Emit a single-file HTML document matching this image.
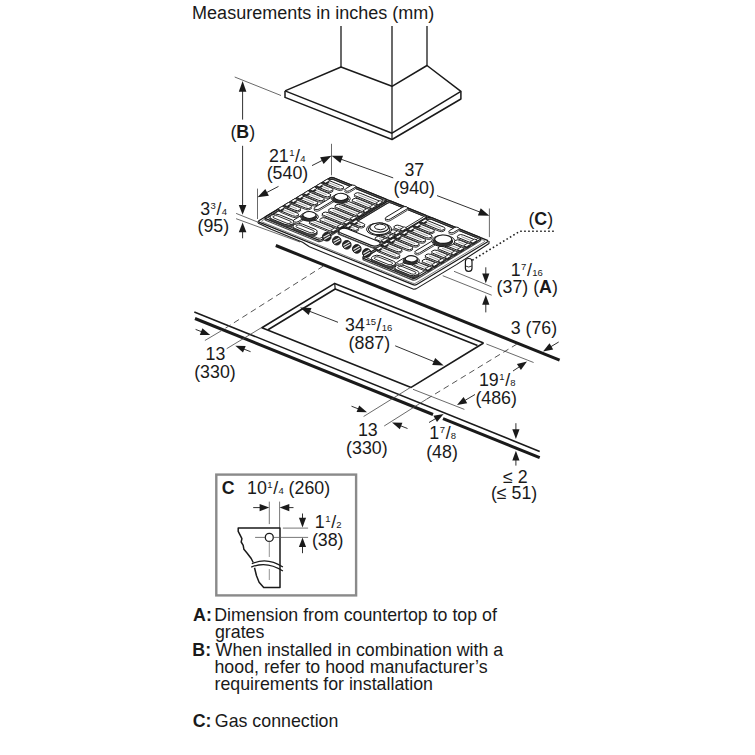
<!DOCTYPE html>
<html><head><meta charset="utf-8"><style>
html,body{margin:0;padding:0;background:#fff;}
svg{display:block;font-family:"Liberation Sans",sans-serif;}
</style></head><body>
<svg width="755" height="755" viewBox="0 0 755 755">
<rect width="755" height="755" fill="#fff"/>
<text x="192.12" y="18.90" font-size="18" font-weight="normal" fill="#1a1a1a">Measurements in inches (mm)</text>
<line x1="341.0" y1="26.0" x2="341.0" y2="67.0" stroke="#1a1a1a" stroke-width="1.3" />
<line x1="392.0" y1="26.0" x2="392.0" y2="86.0" stroke="#1a1a1a" stroke-width="1.3" />
<line x1="427.0" y1="26.0" x2="427.0" y2="65.5" stroke="#1a1a1a" stroke-width="1.3" />
<polyline points="285.0,90.9 341.0,67.0 392.0,86.3 427.0,65.5 460.9,91.4 392.0,133.2 285.0,90.9" stroke="#1a1a1a" stroke-width="1.5" fill="none" stroke-linejoin="round" />
<line x1="392.0" y1="86.3" x2="392.0" y2="133.2" stroke="#1a1a1a" stroke-width="1.3" />
<polyline points="285.0,90.9 285.0,97.4 392.0,139.5 460.9,99.0 460.9,91.4" stroke="#1a1a1a" stroke-width="1.5" fill="none" stroke-linejoin="round" />
<line x1="392.0" y1="133.2" x2="392.0" y2="139.5" stroke="#1a1a1a" stroke-width="1.2" />
<line x1="234.7" y1="77.0" x2="281.0" y2="95.5" stroke="#444" stroke-width="0.8" />
<line x1="242.6" y1="119.6" x2="242.6" y2="90.8" stroke="#1a1a1a" stroke-width="0.9" />
<polygon points="242.6,81.0 246.4,91.8 238.8,91.8" fill="#1a1a1a"/>
<text x="230.40" y="138.40" font-size="17.8" font-weight="normal" fill="#1a1a1a">(</text>
<text x="236.32" y="138.4" font-size="17.8" fill="#1a1a1a"><tspan font-weight="bold">B</tspan>)</text>
<line x1="242.6" y1="145.8" x2="242.6" y2="206.0" stroke="#1a1a1a" stroke-width="0.9" />
<polygon points="242.6,214.7 238.8,205.0 246.4,205.0" fill="#1a1a1a"/>
<line x1="242.6" y1="238.3" x2="242.6" y2="231.3" stroke="#1a1a1a" stroke-width="0.9" />
<polygon points="242.6,222.6 246.4,232.3 238.8,232.3" fill="#1a1a1a"/>
<line x1="236.1" y1="213.4" x2="257.0" y2="221.8" stroke="#444" stroke-width="0.8" />
<line x1="236.1" y1="218.7" x2="300.0" y2="242.0" stroke="#444" stroke-width="0.8" />
<text x="200.22" y="214.70" font-size="17.8" fill="#1a1a1a">3</text>
<text x="210.62" y="208.80" font-size="9.5" fill="#1a1a1a">3</text>
<text x="216.51" y="214.70" font-size="17.8" fill="#1a1a1a">/</text>
<text x="221.75" y="214.70" font-size="9.5" fill="#1a1a1a">4</text>
<text x="197.50" y="231.90" font-size="17.8" font-weight="normal" fill="#1a1a1a">(95)</text>
<line x1="257.5" y1="188.6" x2="257.5" y2="219.0" stroke="#444" stroke-width="0.8" />
<line x1="331.5" y1="143.8" x2="331.5" y2="175.3" stroke="#444" stroke-width="0.8" />
<line x1="278.5" y1="186.4" x2="266.2" y2="192.8" stroke="#1a1a1a" stroke-width="0.9" />
<polygon points="257.5,197.3 265.3,188.9 268.9,195.7" fill="#1a1a1a"/>
<line x1="312.0" y1="165.6" x2="322.7" y2="160.2" stroke="#1a1a1a" stroke-width="0.9" />
<polygon points="331.5,155.8 323.6,164.1 320.1,157.2" fill="#1a1a1a"/>
<text x="268.90" y="161.70" font-size="17.8" fill="#1a1a1a">21</text>
<text x="289.20" y="155.80" font-size="9.5" fill="#1a1a1a">1</text>
<text x="295.09" y="161.70" font-size="17.8" fill="#1a1a1a">/</text>
<text x="300.33" y="161.70" font-size="9.5" fill="#1a1a1a">4</text>
<text x="266.70" y="179.10" font-size="17.8" font-weight="normal" fill="#1a1a1a">(540)</text>
<line x1="393.2" y1="177.9" x2="340.7" y2="159.1" stroke="#1a1a1a" stroke-width="0.9" />
<polygon points="331.5,155.8 343.0,155.8 340.4,163.1" fill="#1a1a1a"/>
<line x1="437.0" y1="195.6" x2="480.3" y2="212.2" stroke="#1a1a1a" stroke-width="0.9" />
<polygon points="489.4,215.7 477.9,215.4 480.7,208.2" fill="#1a1a1a"/>
<line x1="489.4" y1="208.5" x2="489.4" y2="237.1" stroke="#444" stroke-width="0.8" />
<text x="404.42" y="175.70" font-size="17.8" font-weight="normal" fill="#1a1a1a">37</text>
<text x="393.40" y="194.00" font-size="17.8" font-weight="normal" fill="#1a1a1a">(940)</text>
<text x="528.40" y="225.20" font-size="17.8" font-weight="normal" fill="#1a1a1a">(</text>
<text x="534.32" y="225.2" font-size="17.8" fill="#1a1a1a"><tspan font-weight="bold">C</tspan>)</text>
<polyline points="472.3,260.2 520,231.2 556,231.2" fill="none" stroke="#222" stroke-width="1.6" stroke-dasharray="1.6 2.4"/>
<line x1="485.8" y1="267.3" x2="485.8" y2="274.5" stroke="#1a1a1a" stroke-width="0.9" />
<polygon points="485.8,283.2 482.2,273.5 489.4,273.5" fill="#1a1a1a"/>
<line x1="485.8" y1="312.4" x2="485.8" y2="303.7" stroke="#1a1a1a" stroke-width="0.9" />
<polygon points="485.8,295.0 489.4,304.7 482.2,304.7" fill="#1a1a1a"/>
<line x1="454.0" y1="271.3" x2="491.7" y2="286.9" stroke="#444" stroke-width="0.8" />
<line x1="442.7" y1="275.7" x2="491.7" y2="295.2" stroke="#444" stroke-width="0.8" />
<text x="510.64" y="275.50" font-size="17.8" fill="#1a1a1a">1</text>
<text x="521.04" y="269.60" font-size="9.5" fill="#1a1a1a">7</text>
<text x="526.93" y="275.50" font-size="17.8" fill="#1a1a1a">/</text>
<text x="532.17" y="275.50" font-size="9.5" fill="#1a1a1a">16</text>
<text x="496.60" y="293.20" font-size="17.8" font-weight="normal" fill="#1a1a1a">(37) (</text>
<text x="539.12" y="293.2" font-size="17.8" fill="#1a1a1a"><tspan font-weight="bold">A</tspan>)</text>
<line x1="275.8" y1="245.5" x2="559.6" y2="360.1" stroke="#1a1a1a" stroke-width="3.0" />
<line x1="194.3" y1="311.9" x2="539.7" y2="451.4" stroke="#1a1a1a" stroke-width="1.6" />
<line x1="195.0" y1="318.5" x2="433.0" y2="414.5" stroke="#1a1a1a" stroke-width="3.0" />
<line x1="443.0" y1="418.6" x2="539.7" y2="457.7" stroke="#1a1a1a" stroke-width="3.0" />
<polyline points="483.6,343.0 334.7,283.4 261.9,327.8 411.1,387.4 483.6,343.0" stroke="#1a1a1a" stroke-width="1.6" fill="none" stroke-linejoin="round" />
<polyline points="477.5,345.6 335.2,289.0 268.0,329.7" stroke="#1a1a1a" stroke-width="1.6" fill="none" stroke-linejoin="round" />
<line x1="334.7" y1="283.4" x2="335.2" y2="289.2" stroke="#1a1a1a" stroke-width="1.2" />
<line x1="323.4" y1="266" x2="220.8" y2="331.1" stroke="#555" stroke-width="1" stroke-dasharray="6 4"/>
<line x1="220.8" y1="331.1" x2="204.9" y2="340.5" stroke="#444" stroke-width="0.8" />
<line x1="261.2" y1="327.8" x2="226.7" y2="348.7" stroke="#444" stroke-width="0.8" />
<line x1="517" y1="344" x2="426.4" y2="399.3" stroke="#555" stroke-width="1" stroke-dasharray="6 4"/>
<line x1="426.4" y1="399.3" x2="384.2" y2="426.0" stroke="#444" stroke-width="0.8" />
<line x1="410.9" y1="387.2" x2="363.6" y2="416.5" stroke="#444" stroke-width="0.8" />
<line x1="486.4" y1="344.0" x2="533.6" y2="362.5" stroke="#444" stroke-width="0.8" />
<line x1="413.0" y1="389.3" x2="464.4" y2="409.4" stroke="#444" stroke-width="0.8" />
<line x1="338.0" y1="322.3" x2="309.1" y2="311.1" stroke="#1a1a1a" stroke-width="0.9" />
<polygon points="300.0,307.6 311.5,307.9 308.7,315.1" fill="#1a1a1a"/>
<line x1="395.2" y1="345.8" x2="434.6" y2="361.9" stroke="#1a1a1a" stroke-width="0.9" />
<polygon points="443.7,365.6 432.2,365.1 435.2,358.0" fill="#1a1a1a"/>
<text x="345.12" y="331.20" font-size="17.8" fill="#1a1a1a">34</text>
<text x="365.42" y="325.30" font-size="9.5" fill="#1a1a1a">15</text>
<text x="376.59" y="331.20" font-size="17.8" fill="#1a1a1a">/</text>
<text x="381.83" y="331.20" font-size="9.5" fill="#1a1a1a">16</text>
<text x="348.60" y="348.70" font-size="17.8" font-weight="normal" fill="#1a1a1a">(887)</text>
<line x1="195.6" y1="329.4" x2="202.1" y2="331.9" stroke="#1a1a1a" stroke-width="0.9" />
<polygon points="210.2,335.1 199.8,334.9 202.4,328.2" fill="#1a1a1a"/>
<line x1="250.6" y1="351.7" x2="243.4" y2="348.9" stroke="#1a1a1a" stroke-width="0.9" />
<polygon points="235.3,345.7 245.7,345.9 243.0,352.6" fill="#1a1a1a"/>
<text x="205.54" y="360.30" font-size="17.8" font-weight="normal" fill="#1a1a1a">13</text>
<text x="194.20" y="378.10" font-size="17.8" font-weight="normal" fill="#1a1a1a">(330)</text>
<line x1="558.7" y1="342.0" x2="550.5" y2="346.9" stroke="#1a1a1a" stroke-width="0.9" />
<polygon points="543.0,351.4 549.5,343.3 553.2,349.5" fill="#1a1a1a"/>
<text x="510.72" y="333.60" font-size="17.8" font-weight="normal" fill="#1a1a1a">3 (76)</text>
<line x1="513.0" y1="371.0" x2="519.8" y2="366.5" stroke="#1a1a1a" stroke-width="0.9" />
<polygon points="527.0,361.6 520.9,370.0 516.9,364.1" fill="#1a1a1a"/>
<line x1="475.0" y1="394.5" x2="464.5" y2="400.7" stroke="#1a1a1a" stroke-width="0.9" />
<polygon points="457.0,405.1 463.6,397.1 467.2,403.2" fill="#1a1a1a"/>
<text x="478.94" y="385.60" font-size="17.8" fill="#1a1a1a">19</text>
<text x="499.24" y="379.70" font-size="9.5" fill="#1a1a1a">1</text>
<text x="505.13" y="385.60" font-size="17.8" fill="#1a1a1a">/</text>
<text x="510.37" y="385.60" font-size="9.5" fill="#1a1a1a">8</text>
<text x="475.40" y="404.20" font-size="17.8" font-weight="normal" fill="#1a1a1a">(486)</text>
<line x1="351.5" y1="406.2" x2="358.9" y2="409.1" stroke="#1a1a1a" stroke-width="0.9" />
<polygon points="367.0,412.2 356.6,412.0 359.2,405.4" fill="#1a1a1a"/>
<line x1="407.5" y1="428.5" x2="400.1" y2="425.6" stroke="#1a1a1a" stroke-width="0.9" />
<polygon points="392.0,422.5 402.4,422.7 399.8,429.3" fill="#1a1a1a"/>
<text x="357.94" y="436.00" font-size="17.8" font-weight="normal" fill="#1a1a1a">13</text>
<text x="346.10" y="453.50" font-size="17.8" font-weight="normal" fill="#1a1a1a">(330)</text>
<line x1="429.0" y1="422.5" x2="436.1" y2="418.3" stroke="#1a1a1a" stroke-width="0.9" />
<polygon points="443.6,413.9 437.0,421.9 433.4,415.8" fill="#1a1a1a"/>
<text x="429.34" y="438.90" font-size="17.8" fill="#1a1a1a">1</text>
<text x="439.74" y="433.00" font-size="9.5" fill="#1a1a1a">7</text>
<text x="445.63" y="438.90" font-size="17.8" fill="#1a1a1a">/</text>
<text x="450.87" y="438.90" font-size="9.5" fill="#1a1a1a">8</text>
<text x="426.20" y="457.80" font-size="17.8" font-weight="normal" fill="#1a1a1a">(48)</text>
<line x1="515.9" y1="423.2" x2="515.9" y2="430.3" stroke="#1a1a1a" stroke-width="0.9" />
<polygon points="515.9,439.0 512.3,429.3 519.5,429.3" fill="#1a1a1a"/>
<line x1="515.9" y1="465.6" x2="515.9" y2="459.4" stroke="#1a1a1a" stroke-width="0.9" />
<polygon points="515.9,450.7 519.5,460.4 512.3,460.4" fill="#1a1a1a"/>
<text x="503.05" y="482.60" font-size="17.8" font-weight="normal" fill="#1a1a1a">≤ 2</text>
<text x="490.90" y="498.50" font-size="17.8" font-weight="normal" fill="#1a1a1a">(≤ 51)</text>
<rect x="216.3" y="474.6" width="139.8" height="120.8" fill="none" stroke="#8a8a8a" stroke-width="2.4"/>
<text x="221.67" y="493.80" font-size="17.8" font-weight="bold" fill="#1a1a1a">C</text>
<text x="247.04" y="494.20" font-size="17.8" fill="#1a1a1a">10</text>
<text x="267.34" y="488.30" font-size="9.5" fill="#1a1a1a">1</text>
<text x="273.23" y="494.20" font-size="17.8" fill="#1a1a1a">/</text>
<text x="278.47" y="494.20" font-size="9.5" fill="#1a1a1a">4</text>
<text x="288.60" y="494.20" font-size="17.8" font-weight="normal" fill="#1a1a1a">(260)</text>
<line x1="269.3" y1="501.6" x2="269.3" y2="524.1" stroke="#555" stroke-width="0.8" />
<line x1="279.6" y1="501.6" x2="279.6" y2="528.0" stroke="#555" stroke-width="0.8" />
<line x1="253.2" y1="507.6" x2="260.6" y2="507.6" stroke="#1a1a1a" stroke-width="0.9" />
<polygon points="269.3,507.6 259.6,511.2 259.6,504.0" fill="#1a1a1a"/>
<line x1="293.5" y1="507.6" x2="288.3" y2="507.6" stroke="#1a1a1a" stroke-width="0.9" />
<polygon points="279.6,507.6 289.3,504.0 289.3,511.2" fill="#1a1a1a"/>
<path d="M253.2,562.5 L251.2,558.5 L247.2,553.2 L243.9,549.3 L243.2,545.3 L241.2,542 L241.9,538.7 L239.9,534.7 L238.2,531.4 L238.2,528.1 L280,528.1 L280,587.6 L263.7,587.6 L259.1,582.3 L256.5,575.7 L254.5,567.8" fill="none" stroke="#1a1a1a" stroke-width="1.5" stroke-linejoin="round"/>
<circle cx="269.3" cy="537.4" r="4" fill="none" stroke="#1a1a1a" stroke-width="1.3"/>
<line x1="255.1" y1="537.4" x2="265.3" y2="537.4" stroke="#555" stroke-width="0.8" />
<line x1="273.3" y1="537.4" x2="308.1" y2="537.4" stroke="#555" stroke-width="0.8" />
<line x1="282.9" y1="528.1" x2="308.1" y2="528.1" stroke="#555" stroke-width="0.8" />
<line x1="269.3" y1="541.5" x2="269.3" y2="557.0" stroke="#777" stroke-width="0.8" />
<line x1="269.3" y1="569.0" x2="269.3" y2="580.0" stroke="#777" stroke-width="0.8" />
<line x1="302.5" y1="513.5" x2="302.5" y2="518.7" stroke="#1a1a1a" stroke-width="0.9" />
<polygon points="302.5,527.4 298.9,517.7 306.1,517.7" fill="#1a1a1a"/>
<line x1="302.5" y1="553.2" x2="302.5" y2="546.1" stroke="#1a1a1a" stroke-width="0.9" />
<polygon points="302.5,537.4 306.1,547.1 298.9,547.1" fill="#1a1a1a"/>
<text x="314.84" y="528.00" font-size="17.8" fill="#1a1a1a">1</text>
<text x="325.24" y="522.10" font-size="9.5" fill="#1a1a1a">1</text>
<text x="331.13" y="528.00" font-size="17.8" fill="#1a1a1a">/</text>
<text x="336.37" y="528.00" font-size="9.5" fill="#1a1a1a">2</text>
<text x="311.90" y="545.50" font-size="17.8" font-weight="normal" fill="#1a1a1a">(38)</text>
<path d="M251.8,563.8 Q267,556.5 282.9,567.1" fill="none" stroke="#1a1a1a" stroke-width="1.2"/>
<path d="M251.2,567.1 Q267,560.5 282.9,571.1" fill="none" stroke="#1a1a1a" stroke-width="1.2"/>
<text x="193.06" y="621.20" font-size="17.8" font-weight="bold" fill="#1a1a1a">A:</text>
<text x="214.24" y="621.20" font-size="17.8" font-weight="normal" fill="#1a1a1a">Dimension from countertop to top of</text>
<text x="214.95" y="637.80" font-size="17.8" font-weight="normal" fill="#1a1a1a">grates</text>
<text x="192.31" y="655.50" font-size="17.8" font-weight="bold" fill="#1a1a1a">B:</text>
<text x="215.62" y="655.50" font-size="17.8" font-weight="normal" fill="#1a1a1a">When installed in combination with a</text>
<text x="214.47" y="672.50" font-size="17.8" font-weight="normal" fill="#1a1a1a">hood, refer to hood manufacturer’s</text>
<text x="214.52" y="689.50" font-size="17.8" font-weight="normal" fill="#1a1a1a">requirements for installation</text>
<text x="192.77" y="726.80" font-size="17.8" font-weight="bold" fill="#1a1a1a">C:</text>
<text x="214.80" y="726.80" font-size="17.8" font-weight="normal" fill="#1a1a1a">Gas connection</text>
<polyline points="257.5,221.5 258.4,223.3 271.1,229.2 302.6,242.2 309.4,246.8 413.7,289.2 416.0,288.9 456.8,264.4 489.0,243.5 489.0,241.0" stroke="#1a1a1a" stroke-width="1.1" fill="#fff" stroke-linejoin="round" />
<rect x="465.4" y="258.5" width="6.6" height="12.8" rx="3" fill="#fff" stroke="#1a1a1a" stroke-width="1.2"/>
<path d="M465.6,266 Q468.7,268 471.8,266" fill="none" stroke="#1a1a1a" stroke-width="0.9"/>
<g transform="matrix(4.2568,1.7297,3.4824,-2.0941,257.5,221.50)">
<rect x="0" y="0" width="37" height="21.25" rx="0.5" fill="#fff" stroke="#1a1a1a" stroke-width="1.2" vector-effect="non-scaling-stroke"/>
<rect x="0.45" y="0.4" width="36.1" height="20.45" rx="0.4" fill="none" stroke="#444" stroke-width="0.7" vector-effect="non-scaling-stroke"/>
</g>
<g transform="matrix(4.2568,1.7297,3.4824,-2.0941,257.5,220.10)">
<rect x="0.70" y="0.90" width="13.20" height="19.50" rx="0.6" fill="none" stroke="#444" stroke-width="1.2" vector-effect="non-scaling-stroke"/>
<rect x="14.20" y="5.40" width="9.20" height="15.00" rx="0.6" fill="none" stroke="#444" stroke-width="1.2" vector-effect="non-scaling-stroke"/>
<rect x="23.70" y="0.90" width="12.40" height="19.50" rx="0.6" fill="none" stroke="#444" stroke-width="1.2" vector-effect="non-scaling-stroke"/>
</g>
<g transform="matrix(4.2568,1.7297,3.4824,-2.0941,257.5,218.50)">
<rect x="1.00" y="19.85" width="12.60" height="0.55" rx="0.1" fill="#6a6a6a" stroke="#6a6a6a" stroke-width="0.1" vector-effect="non-scaling-stroke"/>
<rect x="0.70" y="0.90" width="13.20" height="19.50" rx="0.6" fill="none" stroke="#1a1a1a" stroke-width="1.2" vector-effect="non-scaling-stroke"/>
<rect x="1.20" y="1.40" width="12.20" height="18.50" rx="0.4" fill="none" stroke="#1a1a1a" stroke-width="0.9" vector-effect="non-scaling-stroke"/>
<rect x="14.50" y="19.85" width="8.60" height="0.55" rx="0.1" fill="#6a6a6a" stroke="#6a6a6a" stroke-width="0.1" vector-effect="non-scaling-stroke"/>
<rect x="14.20" y="5.40" width="9.20" height="15.00" rx="0.6" fill="none" stroke="#1a1a1a" stroke-width="1.2" vector-effect="non-scaling-stroke"/>
<rect x="14.70" y="5.90" width="8.20" height="14.00" rx="0.4" fill="none" stroke="#1a1a1a" stroke-width="0.9" vector-effect="non-scaling-stroke"/>
<rect x="24.00" y="19.85" width="11.80" height="0.55" rx="0.1" fill="#6a6a6a" stroke="#6a6a6a" stroke-width="0.1" vector-effect="non-scaling-stroke"/>
<rect x="23.70" y="0.90" width="12.40" height="19.50" rx="0.6" fill="none" stroke="#1a1a1a" stroke-width="1.2" vector-effect="non-scaling-stroke"/>
<rect x="24.20" y="1.40" width="11.40" height="18.50" rx="0.4" fill="none" stroke="#1a1a1a" stroke-width="0.9" vector-effect="non-scaling-stroke"/>
</g>
<g transform="matrix(4.2568,1.7297,3.4824,-2.0941,257.5,219.90)">
<rect x="0.75" y="4.85" width="4.20" height="1.30" rx="0.65" fill="#fff" stroke="#333" stroke-width="1.0" vector-effect="non-scaling-stroke"/>
</g>
<g transform="matrix(4.2568,1.7297,3.4824,-2.0941,257.5,218.50)">
<rect x="0.75" y="4.85" width="4.20" height="1.30" rx="0.65" fill="#fff" stroke="#1a1a1a" stroke-width="1.0" vector-effect="non-scaling-stroke"/>
<line x1="1.75" y1="5.50" x2="4.20" y2="5.50" stroke="#777" stroke-width="0.7" vector-effect="non-scaling-stroke"/>
</g>
<g transform="matrix(4.2568,1.7297,3.4824,-2.0941,257.5,219.50)">
<rect x="0.75" y="5.00" width="0.70" height="0.91" rx="0.1" fill="#222" stroke="#222" stroke-width="0.6" vector-effect="non-scaling-stroke"/>
</g>
<g transform="matrix(4.2568,1.7297,3.4824,-2.0941,257.5,217.90)">
<rect x="0.75" y="4.85" width="0.70" height="1.30" rx="0.1" fill="#fff" stroke="#1a1a1a" stroke-width="0.9" vector-effect="non-scaling-stroke"/>
</g>
<g transform="matrix(4.2568,1.7297,3.4824,-2.0941,257.5,219.90)">
<rect x="7.85" y="4.85" width="6.00" height="1.30" rx="0.65" fill="#fff" stroke="#333" stroke-width="1.0" vector-effect="non-scaling-stroke"/>
</g>
<g transform="matrix(4.2568,1.7297,3.4824,-2.0941,257.5,218.50)">
<rect x="7.85" y="4.85" width="6.00" height="1.30" rx="0.65" fill="#fff" stroke="#1a1a1a" stroke-width="1.0" vector-effect="non-scaling-stroke"/>
<line x1="12.85" y1="5.50" x2="8.60" y2="5.50" stroke="#777" stroke-width="0.7" vector-effect="non-scaling-stroke"/>
</g>
<g transform="matrix(4.2568,1.7297,3.4824,-2.0941,257.5,219.50)">
<rect x="13.15" y="5.00" width="0.70" height="0.91" rx="0.1" fill="#222" stroke="#222" stroke-width="0.6" vector-effect="non-scaling-stroke"/>
</g>
<g transform="matrix(4.2568,1.7297,3.4824,-2.0941,257.5,217.90)">
<rect x="13.15" y="4.85" width="0.70" height="1.30" rx="0.1" fill="#fff" stroke="#1a1a1a" stroke-width="0.9" vector-effect="non-scaling-stroke"/>
</g>
<g transform="matrix(4.2568,1.7297,3.4824,-2.0941,257.5,219.90)">
<rect x="0.75" y="6.70" width="3.20" height="1.30" rx="0.65" fill="#fff" stroke="#333" stroke-width="1.0" vector-effect="non-scaling-stroke"/>
</g>
<g transform="matrix(4.2568,1.7297,3.4824,-2.0941,257.5,218.50)">
<rect x="0.75" y="6.70" width="3.20" height="1.30" rx="0.65" fill="#fff" stroke="#1a1a1a" stroke-width="1.0" vector-effect="non-scaling-stroke"/>
<line x1="1.75" y1="7.35" x2="3.20" y2="7.35" stroke="#777" stroke-width="0.7" vector-effect="non-scaling-stroke"/>
</g>
<g transform="matrix(4.2568,1.7297,3.4824,-2.0941,257.5,219.50)">
<rect x="0.75" y="6.85" width="0.70" height="0.91" rx="0.1" fill="#222" stroke="#222" stroke-width="0.6" vector-effect="non-scaling-stroke"/>
</g>
<g transform="matrix(4.2568,1.7297,3.4824,-2.0941,257.5,217.90)">
<rect x="0.75" y="6.70" width="0.70" height="1.30" rx="0.1" fill="#fff" stroke="#1a1a1a" stroke-width="0.9" vector-effect="non-scaling-stroke"/>
</g>
<g transform="matrix(4.2568,1.7297,3.4824,-2.0941,257.5,219.90)">
<rect x="8.85" y="6.70" width="5.00" height="1.30" rx="0.65" fill="#fff" stroke="#333" stroke-width="1.0" vector-effect="non-scaling-stroke"/>
</g>
<g transform="matrix(4.2568,1.7297,3.4824,-2.0941,257.5,218.50)">
<rect x="8.85" y="6.70" width="5.00" height="1.30" rx="0.65" fill="#fff" stroke="#1a1a1a" stroke-width="1.0" vector-effect="non-scaling-stroke"/>
<line x1="12.85" y1="7.35" x2="9.60" y2="7.35" stroke="#777" stroke-width="0.7" vector-effect="non-scaling-stroke"/>
</g>
<g transform="matrix(4.2568,1.7297,3.4824,-2.0941,257.5,219.50)">
<rect x="13.15" y="6.85" width="0.70" height="0.91" rx="0.1" fill="#222" stroke="#222" stroke-width="0.6" vector-effect="non-scaling-stroke"/>
</g>
<g transform="matrix(4.2568,1.7297,3.4824,-2.0941,257.5,217.90)">
<rect x="13.15" y="6.70" width="0.70" height="1.30" rx="0.1" fill="#fff" stroke="#1a1a1a" stroke-width="0.9" vector-effect="non-scaling-stroke"/>
</g>
<g transform="matrix(4.2568,1.7297,3.4824,-2.0941,257.5,219.90)">
<rect x="0.75" y="8.55" width="4.20" height="1.30" rx="0.65" fill="#fff" stroke="#333" stroke-width="1.0" vector-effect="non-scaling-stroke"/>
</g>
<g transform="matrix(4.2568,1.7297,3.4824,-2.0941,257.5,218.50)">
<rect x="0.75" y="8.55" width="4.20" height="1.30" rx="0.65" fill="#fff" stroke="#1a1a1a" stroke-width="1.0" vector-effect="non-scaling-stroke"/>
<line x1="1.75" y1="9.20" x2="4.20" y2="9.20" stroke="#777" stroke-width="0.7" vector-effect="non-scaling-stroke"/>
</g>
<g transform="matrix(4.2568,1.7297,3.4824,-2.0941,257.5,219.50)">
<rect x="0.75" y="8.70" width="0.70" height="0.91" rx="0.1" fill="#222" stroke="#222" stroke-width="0.6" vector-effect="non-scaling-stroke"/>
</g>
<g transform="matrix(4.2568,1.7297,3.4824,-2.0941,257.5,217.90)">
<rect x="0.75" y="8.55" width="0.70" height="1.30" rx="0.1" fill="#fff" stroke="#1a1a1a" stroke-width="0.9" vector-effect="non-scaling-stroke"/>
</g>
<g transform="matrix(4.2568,1.7297,3.4824,-2.0941,257.5,219.90)">
<rect x="7.85" y="8.55" width="6.00" height="1.30" rx="0.65" fill="#fff" stroke="#333" stroke-width="1.0" vector-effect="non-scaling-stroke"/>
</g>
<g transform="matrix(4.2568,1.7297,3.4824,-2.0941,257.5,218.50)">
<rect x="7.85" y="8.55" width="6.00" height="1.30" rx="0.65" fill="#fff" stroke="#1a1a1a" stroke-width="1.0" vector-effect="non-scaling-stroke"/>
<line x1="12.85" y1="9.20" x2="8.60" y2="9.20" stroke="#777" stroke-width="0.7" vector-effect="non-scaling-stroke"/>
</g>
<g transform="matrix(4.2568,1.7297,3.4824,-2.0941,257.5,219.50)">
<rect x="13.15" y="8.70" width="0.70" height="0.91" rx="0.1" fill="#222" stroke="#222" stroke-width="0.6" vector-effect="non-scaling-stroke"/>
</g>
<g transform="matrix(4.2568,1.7297,3.4824,-2.0941,257.5,217.90)">
<rect x="13.15" y="8.55" width="0.70" height="1.30" rx="0.1" fill="#fff" stroke="#1a1a1a" stroke-width="0.9" vector-effect="non-scaling-stroke"/>
</g>
<g transform="matrix(4.2568,1.7297,3.4824,-2.0941,257.5,219.90)">
<rect x="0.75" y="10.40" width="4.20" height="1.30" rx="0.65" fill="#fff" stroke="#333" stroke-width="1.0" vector-effect="non-scaling-stroke"/>
</g>
<g transform="matrix(4.2568,1.7297,3.4824,-2.0941,257.5,218.50)">
<rect x="0.75" y="10.40" width="4.20" height="1.30" rx="0.65" fill="#fff" stroke="#1a1a1a" stroke-width="1.0" vector-effect="non-scaling-stroke"/>
<line x1="1.75" y1="11.05" x2="4.20" y2="11.05" stroke="#777" stroke-width="0.7" vector-effect="non-scaling-stroke"/>
</g>
<g transform="matrix(4.2568,1.7297,3.4824,-2.0941,257.5,219.50)">
<rect x="0.75" y="10.55" width="0.70" height="0.91" rx="0.1" fill="#222" stroke="#222" stroke-width="0.6" vector-effect="non-scaling-stroke"/>
</g>
<g transform="matrix(4.2568,1.7297,3.4824,-2.0941,257.5,217.90)">
<rect x="0.75" y="10.40" width="0.70" height="1.30" rx="0.1" fill="#fff" stroke="#1a1a1a" stroke-width="0.9" vector-effect="non-scaling-stroke"/>
</g>
<g transform="matrix(4.2568,1.7297,3.4824,-2.0941,257.5,219.90)">
<rect x="7.85" y="10.40" width="6.00" height="1.30" rx="0.65" fill="#fff" stroke="#333" stroke-width="1.0" vector-effect="non-scaling-stroke"/>
</g>
<g transform="matrix(4.2568,1.7297,3.4824,-2.0941,257.5,218.50)">
<rect x="7.85" y="10.40" width="6.00" height="1.30" rx="0.65" fill="#fff" stroke="#1a1a1a" stroke-width="1.0" vector-effect="non-scaling-stroke"/>
<line x1="12.85" y1="11.05" x2="8.60" y2="11.05" stroke="#777" stroke-width="0.7" vector-effect="non-scaling-stroke"/>
</g>
<g transform="matrix(4.2568,1.7297,3.4824,-2.0941,257.5,219.50)">
<rect x="13.15" y="10.55" width="0.70" height="0.91" rx="0.1" fill="#222" stroke="#222" stroke-width="0.6" vector-effect="non-scaling-stroke"/>
</g>
<g transform="matrix(4.2568,1.7297,3.4824,-2.0941,257.5,217.90)">
<rect x="13.15" y="10.40" width="0.70" height="1.30" rx="0.1" fill="#fff" stroke="#1a1a1a" stroke-width="0.9" vector-effect="non-scaling-stroke"/>
</g>
<g transform="matrix(4.2568,1.7297,3.4824,-2.0941,257.5,219.90)">
<rect x="0.75" y="12.25" width="4.20" height="1.30" rx="0.65" fill="#fff" stroke="#333" stroke-width="1.0" vector-effect="non-scaling-stroke"/>
</g>
<g transform="matrix(4.2568,1.7297,3.4824,-2.0941,257.5,218.50)">
<rect x="0.75" y="12.25" width="4.20" height="1.30" rx="0.65" fill="#fff" stroke="#1a1a1a" stroke-width="1.0" vector-effect="non-scaling-stroke"/>
<line x1="1.75" y1="12.90" x2="4.20" y2="12.90" stroke="#777" stroke-width="0.7" vector-effect="non-scaling-stroke"/>
</g>
<g transform="matrix(4.2568,1.7297,3.4824,-2.0941,257.5,219.50)">
<rect x="0.75" y="12.40" width="0.70" height="0.91" rx="0.1" fill="#222" stroke="#222" stroke-width="0.6" vector-effect="non-scaling-stroke"/>
</g>
<g transform="matrix(4.2568,1.7297,3.4824,-2.0941,257.5,217.90)">
<rect x="0.75" y="12.25" width="0.70" height="1.30" rx="0.1" fill="#fff" stroke="#1a1a1a" stroke-width="0.9" vector-effect="non-scaling-stroke"/>
</g>
<g transform="matrix(4.2568,1.7297,3.4824,-2.0941,257.5,219.90)">
<rect x="7.85" y="12.25" width="6.00" height="1.30" rx="0.65" fill="#fff" stroke="#333" stroke-width="1.0" vector-effect="non-scaling-stroke"/>
</g>
<g transform="matrix(4.2568,1.7297,3.4824,-2.0941,257.5,218.50)">
<rect x="7.85" y="12.25" width="6.00" height="1.30" rx="0.65" fill="#fff" stroke="#1a1a1a" stroke-width="1.0" vector-effect="non-scaling-stroke"/>
<line x1="12.85" y1="12.90" x2="8.60" y2="12.90" stroke="#777" stroke-width="0.7" vector-effect="non-scaling-stroke"/>
</g>
<g transform="matrix(4.2568,1.7297,3.4824,-2.0941,257.5,219.50)">
<rect x="13.15" y="12.40" width="0.70" height="0.91" rx="0.1" fill="#222" stroke="#222" stroke-width="0.6" vector-effect="non-scaling-stroke"/>
</g>
<g transform="matrix(4.2568,1.7297,3.4824,-2.0941,257.5,217.90)">
<rect x="13.15" y="12.25" width="0.70" height="1.30" rx="0.1" fill="#fff" stroke="#1a1a1a" stroke-width="0.9" vector-effect="non-scaling-stroke"/>
</g>
<g transform="matrix(4.2568,1.7297,3.4824,-2.0941,257.5,219.90)">
<rect x="0.75" y="14.10" width="4.20" height="1.30" rx="0.65" fill="#fff" stroke="#333" stroke-width="1.0" vector-effect="non-scaling-stroke"/>
</g>
<g transform="matrix(4.2568,1.7297,3.4824,-2.0941,257.5,218.50)">
<rect x="0.75" y="14.10" width="4.20" height="1.30" rx="0.65" fill="#fff" stroke="#1a1a1a" stroke-width="1.0" vector-effect="non-scaling-stroke"/>
<line x1="1.75" y1="14.75" x2="4.20" y2="14.75" stroke="#777" stroke-width="0.7" vector-effect="non-scaling-stroke"/>
</g>
<g transform="matrix(4.2568,1.7297,3.4824,-2.0941,257.5,219.50)">
<rect x="0.75" y="14.25" width="0.70" height="0.91" rx="0.1" fill="#222" stroke="#222" stroke-width="0.6" vector-effect="non-scaling-stroke"/>
</g>
<g transform="matrix(4.2568,1.7297,3.4824,-2.0941,257.5,217.90)">
<rect x="0.75" y="14.10" width="0.70" height="1.30" rx="0.1" fill="#fff" stroke="#1a1a1a" stroke-width="0.9" vector-effect="non-scaling-stroke"/>
</g>
<g transform="matrix(4.2568,1.7297,3.4824,-2.0941,257.5,219.90)">
<rect x="7.85" y="14.10" width="6.00" height="1.30" rx="0.65" fill="#fff" stroke="#333" stroke-width="1.0" vector-effect="non-scaling-stroke"/>
</g>
<g transform="matrix(4.2568,1.7297,3.4824,-2.0941,257.5,218.50)">
<rect x="7.85" y="14.10" width="6.00" height="1.30" rx="0.65" fill="#fff" stroke="#1a1a1a" stroke-width="1.0" vector-effect="non-scaling-stroke"/>
<line x1="12.85" y1="14.75" x2="8.60" y2="14.75" stroke="#777" stroke-width="0.7" vector-effect="non-scaling-stroke"/>
</g>
<g transform="matrix(4.2568,1.7297,3.4824,-2.0941,257.5,219.50)">
<rect x="13.15" y="14.25" width="0.70" height="0.91" rx="0.1" fill="#222" stroke="#222" stroke-width="0.6" vector-effect="non-scaling-stroke"/>
</g>
<g transform="matrix(4.2568,1.7297,3.4824,-2.0941,257.5,217.90)">
<rect x="13.15" y="14.10" width="0.70" height="1.30" rx="0.1" fill="#fff" stroke="#1a1a1a" stroke-width="0.9" vector-effect="non-scaling-stroke"/>
</g>
<g transform="matrix(4.2568,1.7297,3.4824,-2.0941,257.5,219.90)">
<rect x="0.75" y="15.95" width="3.20" height="1.30" rx="0.65" fill="#fff" stroke="#333" stroke-width="1.0" vector-effect="non-scaling-stroke"/>
</g>
<g transform="matrix(4.2568,1.7297,3.4824,-2.0941,257.5,218.50)">
<rect x="0.75" y="15.95" width="3.20" height="1.30" rx="0.65" fill="#fff" stroke="#1a1a1a" stroke-width="1.0" vector-effect="non-scaling-stroke"/>
<line x1="1.75" y1="16.60" x2="3.20" y2="16.60" stroke="#777" stroke-width="0.7" vector-effect="non-scaling-stroke"/>
</g>
<g transform="matrix(4.2568,1.7297,3.4824,-2.0941,257.5,219.50)">
<rect x="0.75" y="16.10" width="0.70" height="0.91" rx="0.1" fill="#222" stroke="#222" stroke-width="0.6" vector-effect="non-scaling-stroke"/>
</g>
<g transform="matrix(4.2568,1.7297,3.4824,-2.0941,257.5,217.90)">
<rect x="0.75" y="15.95" width="0.70" height="1.30" rx="0.1" fill="#fff" stroke="#1a1a1a" stroke-width="0.9" vector-effect="non-scaling-stroke"/>
</g>
<g transform="matrix(4.2568,1.7297,3.4824,-2.0941,257.5,219.90)">
<rect x="8.85" y="15.95" width="5.00" height="1.30" rx="0.65" fill="#fff" stroke="#333" stroke-width="1.0" vector-effect="non-scaling-stroke"/>
</g>
<g transform="matrix(4.2568,1.7297,3.4824,-2.0941,257.5,218.50)">
<rect x="8.85" y="15.95" width="5.00" height="1.30" rx="0.65" fill="#fff" stroke="#1a1a1a" stroke-width="1.0" vector-effect="non-scaling-stroke"/>
<line x1="12.85" y1="16.60" x2="9.60" y2="16.60" stroke="#777" stroke-width="0.7" vector-effect="non-scaling-stroke"/>
</g>
<g transform="matrix(4.2568,1.7297,3.4824,-2.0941,257.5,219.50)">
<rect x="13.15" y="16.10" width="0.70" height="0.91" rx="0.1" fill="#222" stroke="#222" stroke-width="0.6" vector-effect="non-scaling-stroke"/>
</g>
<g transform="matrix(4.2568,1.7297,3.4824,-2.0941,257.5,217.90)">
<rect x="13.15" y="15.95" width="0.70" height="1.30" rx="0.1" fill="#fff" stroke="#1a1a1a" stroke-width="0.9" vector-effect="non-scaling-stroke"/>
</g>
<g transform="matrix(4.2568,1.7297,3.4824,-2.0941,257.5,219.90)">
<rect x="0.75" y="17.80" width="4.20" height="1.30" rx="0.65" fill="#fff" stroke="#333" stroke-width="1.0" vector-effect="non-scaling-stroke"/>
</g>
<g transform="matrix(4.2568,1.7297,3.4824,-2.0941,257.5,218.50)">
<rect x="0.75" y="17.80" width="4.20" height="1.30" rx="0.65" fill="#fff" stroke="#1a1a1a" stroke-width="1.0" vector-effect="non-scaling-stroke"/>
<line x1="1.75" y1="18.45" x2="4.20" y2="18.45" stroke="#777" stroke-width="0.7" vector-effect="non-scaling-stroke"/>
</g>
<g transform="matrix(4.2568,1.7297,3.4824,-2.0941,257.5,219.50)">
<rect x="0.75" y="17.95" width="0.70" height="0.91" rx="0.1" fill="#222" stroke="#222" stroke-width="0.6" vector-effect="non-scaling-stroke"/>
</g>
<g transform="matrix(4.2568,1.7297,3.4824,-2.0941,257.5,217.90)">
<rect x="0.75" y="17.80" width="0.70" height="1.30" rx="0.1" fill="#fff" stroke="#1a1a1a" stroke-width="0.9" vector-effect="non-scaling-stroke"/>
</g>
<g transform="matrix(4.2568,1.7297,3.4824,-2.0941,257.5,219.90)">
<rect x="7.85" y="17.80" width="6.00" height="1.30" rx="0.65" fill="#fff" stroke="#333" stroke-width="1.0" vector-effect="non-scaling-stroke"/>
</g>
<g transform="matrix(4.2568,1.7297,3.4824,-2.0941,257.5,218.50)">
<rect x="7.85" y="17.80" width="6.00" height="1.30" rx="0.65" fill="#fff" stroke="#1a1a1a" stroke-width="1.0" vector-effect="non-scaling-stroke"/>
<line x1="12.85" y1="18.45" x2="8.60" y2="18.45" stroke="#777" stroke-width="0.7" vector-effect="non-scaling-stroke"/>
</g>
<g transform="matrix(4.2568,1.7297,3.4824,-2.0941,257.5,219.50)">
<rect x="13.15" y="17.95" width="0.70" height="0.91" rx="0.1" fill="#222" stroke="#222" stroke-width="0.6" vector-effect="non-scaling-stroke"/>
</g>
<g transform="matrix(4.2568,1.7297,3.4824,-2.0941,257.5,217.90)">
<rect x="13.15" y="17.80" width="0.70" height="1.30" rx="0.1" fill="#fff" stroke="#1a1a1a" stroke-width="0.9" vector-effect="non-scaling-stroke"/>
</g>
<g transform="matrix(4.2568,1.7297,3.4824,-2.0941,257.5,219.90)">
<rect x="32.05" y="4.85" width="4.00" height="1.30" rx="0.65" fill="#fff" stroke="#333" stroke-width="1.0" vector-effect="non-scaling-stroke"/>
</g>
<g transform="matrix(4.2568,1.7297,3.4824,-2.0941,257.5,218.50)">
<rect x="32.05" y="4.85" width="4.00" height="1.30" rx="0.65" fill="#fff" stroke="#1a1a1a" stroke-width="1.0" vector-effect="non-scaling-stroke"/>
<line x1="35.05" y1="5.50" x2="32.80" y2="5.50" stroke="#777" stroke-width="0.7" vector-effect="non-scaling-stroke"/>
</g>
<g transform="matrix(4.2568,1.7297,3.4824,-2.0941,257.5,219.50)">
<rect x="35.35" y="5.00" width="0.70" height="0.91" rx="0.1" fill="#222" stroke="#222" stroke-width="0.6" vector-effect="non-scaling-stroke"/>
</g>
<g transform="matrix(4.2568,1.7297,3.4824,-2.0941,257.5,217.90)">
<rect x="35.35" y="4.85" width="0.70" height="1.30" rx="0.1" fill="#fff" stroke="#1a1a1a" stroke-width="0.9" vector-effect="non-scaling-stroke"/>
</g>
<g transform="matrix(4.2568,1.7297,3.4824,-2.0941,257.5,219.90)">
<rect x="23.75" y="4.85" width="5.00" height="1.30" rx="0.65" fill="#fff" stroke="#333" stroke-width="1.0" vector-effect="non-scaling-stroke"/>
</g>
<g transform="matrix(4.2568,1.7297,3.4824,-2.0941,257.5,218.50)">
<rect x="23.75" y="4.85" width="5.00" height="1.30" rx="0.65" fill="#fff" stroke="#1a1a1a" stroke-width="1.0" vector-effect="non-scaling-stroke"/>
<line x1="24.75" y1="5.50" x2="28.00" y2="5.50" stroke="#777" stroke-width="0.7" vector-effect="non-scaling-stroke"/>
</g>
<g transform="matrix(4.2568,1.7297,3.4824,-2.0941,257.5,219.50)">
<rect x="23.75" y="5.00" width="0.70" height="0.91" rx="0.1" fill="#222" stroke="#222" stroke-width="0.6" vector-effect="non-scaling-stroke"/>
</g>
<g transform="matrix(4.2568,1.7297,3.4824,-2.0941,257.5,217.90)">
<rect x="23.75" y="4.85" width="0.70" height="1.30" rx="0.1" fill="#fff" stroke="#1a1a1a" stroke-width="0.9" vector-effect="non-scaling-stroke"/>
</g>
<g transform="matrix(4.2568,1.7297,3.4824,-2.0941,257.5,219.90)">
<rect x="32.85" y="6.70" width="3.20" height="1.30" rx="0.65" fill="#fff" stroke="#333" stroke-width="1.0" vector-effect="non-scaling-stroke"/>
</g>
<g transform="matrix(4.2568,1.7297,3.4824,-2.0941,257.5,218.50)">
<rect x="32.85" y="6.70" width="3.20" height="1.30" rx="0.65" fill="#fff" stroke="#1a1a1a" stroke-width="1.0" vector-effect="non-scaling-stroke"/>
<line x1="35.05" y1="7.35" x2="33.60" y2="7.35" stroke="#777" stroke-width="0.7" vector-effect="non-scaling-stroke"/>
</g>
<g transform="matrix(4.2568,1.7297,3.4824,-2.0941,257.5,219.50)">
<rect x="35.35" y="6.85" width="0.70" height="0.91" rx="0.1" fill="#222" stroke="#222" stroke-width="0.6" vector-effect="non-scaling-stroke"/>
</g>
<g transform="matrix(4.2568,1.7297,3.4824,-2.0941,257.5,217.90)">
<rect x="35.35" y="6.70" width="0.70" height="1.30" rx="0.1" fill="#fff" stroke="#1a1a1a" stroke-width="0.9" vector-effect="non-scaling-stroke"/>
</g>
<g transform="matrix(4.2568,1.7297,3.4824,-2.0941,257.5,219.90)">
<rect x="23.75" y="6.70" width="4.00" height="1.30" rx="0.65" fill="#fff" stroke="#333" stroke-width="1.0" vector-effect="non-scaling-stroke"/>
</g>
<g transform="matrix(4.2568,1.7297,3.4824,-2.0941,257.5,218.50)">
<rect x="23.75" y="6.70" width="4.00" height="1.30" rx="0.65" fill="#fff" stroke="#1a1a1a" stroke-width="1.0" vector-effect="non-scaling-stroke"/>
<line x1="24.75" y1="7.35" x2="27.00" y2="7.35" stroke="#777" stroke-width="0.7" vector-effect="non-scaling-stroke"/>
</g>
<g transform="matrix(4.2568,1.7297,3.4824,-2.0941,257.5,219.50)">
<rect x="23.75" y="6.85" width="0.70" height="0.91" rx="0.1" fill="#222" stroke="#222" stroke-width="0.6" vector-effect="non-scaling-stroke"/>
</g>
<g transform="matrix(4.2568,1.7297,3.4824,-2.0941,257.5,217.90)">
<rect x="23.75" y="6.70" width="0.70" height="1.30" rx="0.1" fill="#fff" stroke="#1a1a1a" stroke-width="0.9" vector-effect="non-scaling-stroke"/>
</g>
<g transform="matrix(4.2568,1.7297,3.4824,-2.0941,257.5,219.90)">
<rect x="32.05" y="8.55" width="4.00" height="1.30" rx="0.65" fill="#fff" stroke="#333" stroke-width="1.0" vector-effect="non-scaling-stroke"/>
</g>
<g transform="matrix(4.2568,1.7297,3.4824,-2.0941,257.5,218.50)">
<rect x="32.05" y="8.55" width="4.00" height="1.30" rx="0.65" fill="#fff" stroke="#1a1a1a" stroke-width="1.0" vector-effect="non-scaling-stroke"/>
<line x1="35.05" y1="9.20" x2="32.80" y2="9.20" stroke="#777" stroke-width="0.7" vector-effect="non-scaling-stroke"/>
</g>
<g transform="matrix(4.2568,1.7297,3.4824,-2.0941,257.5,219.50)">
<rect x="35.35" y="8.70" width="0.70" height="0.91" rx="0.1" fill="#222" stroke="#222" stroke-width="0.6" vector-effect="non-scaling-stroke"/>
</g>
<g transform="matrix(4.2568,1.7297,3.4824,-2.0941,257.5,217.90)">
<rect x="35.35" y="8.55" width="0.70" height="1.30" rx="0.1" fill="#fff" stroke="#1a1a1a" stroke-width="0.9" vector-effect="non-scaling-stroke"/>
</g>
<g transform="matrix(4.2568,1.7297,3.4824,-2.0941,257.5,219.90)">
<rect x="23.75" y="8.55" width="5.00" height="1.30" rx="0.65" fill="#fff" stroke="#333" stroke-width="1.0" vector-effect="non-scaling-stroke"/>
</g>
<g transform="matrix(4.2568,1.7297,3.4824,-2.0941,257.5,218.50)">
<rect x="23.75" y="8.55" width="5.00" height="1.30" rx="0.65" fill="#fff" stroke="#1a1a1a" stroke-width="1.0" vector-effect="non-scaling-stroke"/>
<line x1="24.75" y1="9.20" x2="28.00" y2="9.20" stroke="#777" stroke-width="0.7" vector-effect="non-scaling-stroke"/>
</g>
<g transform="matrix(4.2568,1.7297,3.4824,-2.0941,257.5,219.50)">
<rect x="23.75" y="8.70" width="0.70" height="0.91" rx="0.1" fill="#222" stroke="#222" stroke-width="0.6" vector-effect="non-scaling-stroke"/>
</g>
<g transform="matrix(4.2568,1.7297,3.4824,-2.0941,257.5,217.90)">
<rect x="23.75" y="8.55" width="0.70" height="1.30" rx="0.1" fill="#fff" stroke="#1a1a1a" stroke-width="0.9" vector-effect="non-scaling-stroke"/>
</g>
<g transform="matrix(4.2568,1.7297,3.4824,-2.0941,257.5,219.90)">
<rect x="32.05" y="10.40" width="4.00" height="1.30" rx="0.65" fill="#fff" stroke="#333" stroke-width="1.0" vector-effect="non-scaling-stroke"/>
</g>
<g transform="matrix(4.2568,1.7297,3.4824,-2.0941,257.5,218.50)">
<rect x="32.05" y="10.40" width="4.00" height="1.30" rx="0.65" fill="#fff" stroke="#1a1a1a" stroke-width="1.0" vector-effect="non-scaling-stroke"/>
<line x1="35.05" y1="11.05" x2="32.80" y2="11.05" stroke="#777" stroke-width="0.7" vector-effect="non-scaling-stroke"/>
</g>
<g transform="matrix(4.2568,1.7297,3.4824,-2.0941,257.5,219.50)">
<rect x="35.35" y="10.55" width="0.70" height="0.91" rx="0.1" fill="#222" stroke="#222" stroke-width="0.6" vector-effect="non-scaling-stroke"/>
</g>
<g transform="matrix(4.2568,1.7297,3.4824,-2.0941,257.5,217.90)">
<rect x="35.35" y="10.40" width="0.70" height="1.30" rx="0.1" fill="#fff" stroke="#1a1a1a" stroke-width="0.9" vector-effect="non-scaling-stroke"/>
</g>
<g transform="matrix(4.2568,1.7297,3.4824,-2.0941,257.5,219.90)">
<rect x="23.75" y="10.40" width="5.00" height="1.30" rx="0.65" fill="#fff" stroke="#333" stroke-width="1.0" vector-effect="non-scaling-stroke"/>
</g>
<g transform="matrix(4.2568,1.7297,3.4824,-2.0941,257.5,218.50)">
<rect x="23.75" y="10.40" width="5.00" height="1.30" rx="0.65" fill="#fff" stroke="#1a1a1a" stroke-width="1.0" vector-effect="non-scaling-stroke"/>
<line x1="24.75" y1="11.05" x2="28.00" y2="11.05" stroke="#777" stroke-width="0.7" vector-effect="non-scaling-stroke"/>
</g>
<g transform="matrix(4.2568,1.7297,3.4824,-2.0941,257.5,219.50)">
<rect x="23.75" y="10.55" width="0.70" height="0.91" rx="0.1" fill="#222" stroke="#222" stroke-width="0.6" vector-effect="non-scaling-stroke"/>
</g>
<g transform="matrix(4.2568,1.7297,3.4824,-2.0941,257.5,217.90)">
<rect x="23.75" y="10.40" width="0.70" height="1.30" rx="0.1" fill="#fff" stroke="#1a1a1a" stroke-width="0.9" vector-effect="non-scaling-stroke"/>
</g>
<g transform="matrix(4.2568,1.7297,3.4824,-2.0941,257.5,219.90)">
<rect x="32.05" y="12.25" width="4.00" height="1.30" rx="0.65" fill="#fff" stroke="#333" stroke-width="1.0" vector-effect="non-scaling-stroke"/>
</g>
<g transform="matrix(4.2568,1.7297,3.4824,-2.0941,257.5,218.50)">
<rect x="32.05" y="12.25" width="4.00" height="1.30" rx="0.65" fill="#fff" stroke="#1a1a1a" stroke-width="1.0" vector-effect="non-scaling-stroke"/>
<line x1="35.05" y1="12.90" x2="32.80" y2="12.90" stroke="#777" stroke-width="0.7" vector-effect="non-scaling-stroke"/>
</g>
<g transform="matrix(4.2568,1.7297,3.4824,-2.0941,257.5,219.50)">
<rect x="35.35" y="12.40" width="0.70" height="0.91" rx="0.1" fill="#222" stroke="#222" stroke-width="0.6" vector-effect="non-scaling-stroke"/>
</g>
<g transform="matrix(4.2568,1.7297,3.4824,-2.0941,257.5,217.90)">
<rect x="35.35" y="12.25" width="0.70" height="1.30" rx="0.1" fill="#fff" stroke="#1a1a1a" stroke-width="0.9" vector-effect="non-scaling-stroke"/>
</g>
<g transform="matrix(4.2568,1.7297,3.4824,-2.0941,257.5,219.90)">
<rect x="23.75" y="12.25" width="5.00" height="1.30" rx="0.65" fill="#fff" stroke="#333" stroke-width="1.0" vector-effect="non-scaling-stroke"/>
</g>
<g transform="matrix(4.2568,1.7297,3.4824,-2.0941,257.5,218.50)">
<rect x="23.75" y="12.25" width="5.00" height="1.30" rx="0.65" fill="#fff" stroke="#1a1a1a" stroke-width="1.0" vector-effect="non-scaling-stroke"/>
<line x1="24.75" y1="12.90" x2="28.00" y2="12.90" stroke="#777" stroke-width="0.7" vector-effect="non-scaling-stroke"/>
</g>
<g transform="matrix(4.2568,1.7297,3.4824,-2.0941,257.5,219.50)">
<rect x="23.75" y="12.40" width="0.70" height="0.91" rx="0.1" fill="#222" stroke="#222" stroke-width="0.6" vector-effect="non-scaling-stroke"/>
</g>
<g transform="matrix(4.2568,1.7297,3.4824,-2.0941,257.5,217.90)">
<rect x="23.75" y="12.25" width="0.70" height="1.30" rx="0.1" fill="#fff" stroke="#1a1a1a" stroke-width="0.9" vector-effect="non-scaling-stroke"/>
</g>
<g transform="matrix(4.2568,1.7297,3.4824,-2.0941,257.5,219.90)">
<rect x="32.05" y="14.10" width="4.00" height="1.30" rx="0.65" fill="#fff" stroke="#333" stroke-width="1.0" vector-effect="non-scaling-stroke"/>
</g>
<g transform="matrix(4.2568,1.7297,3.4824,-2.0941,257.5,218.50)">
<rect x="32.05" y="14.10" width="4.00" height="1.30" rx="0.65" fill="#fff" stroke="#1a1a1a" stroke-width="1.0" vector-effect="non-scaling-stroke"/>
<line x1="35.05" y1="14.75" x2="32.80" y2="14.75" stroke="#777" stroke-width="0.7" vector-effect="non-scaling-stroke"/>
</g>
<g transform="matrix(4.2568,1.7297,3.4824,-2.0941,257.5,219.50)">
<rect x="35.35" y="14.25" width="0.70" height="0.91" rx="0.1" fill="#222" stroke="#222" stroke-width="0.6" vector-effect="non-scaling-stroke"/>
</g>
<g transform="matrix(4.2568,1.7297,3.4824,-2.0941,257.5,217.90)">
<rect x="35.35" y="14.10" width="0.70" height="1.30" rx="0.1" fill="#fff" stroke="#1a1a1a" stroke-width="0.9" vector-effect="non-scaling-stroke"/>
</g>
<g transform="matrix(4.2568,1.7297,3.4824,-2.0941,257.5,219.90)">
<rect x="23.75" y="14.10" width="5.00" height="1.30" rx="0.65" fill="#fff" stroke="#333" stroke-width="1.0" vector-effect="non-scaling-stroke"/>
</g>
<g transform="matrix(4.2568,1.7297,3.4824,-2.0941,257.5,218.50)">
<rect x="23.75" y="14.10" width="5.00" height="1.30" rx="0.65" fill="#fff" stroke="#1a1a1a" stroke-width="1.0" vector-effect="non-scaling-stroke"/>
<line x1="24.75" y1="14.75" x2="28.00" y2="14.75" stroke="#777" stroke-width="0.7" vector-effect="non-scaling-stroke"/>
</g>
<g transform="matrix(4.2568,1.7297,3.4824,-2.0941,257.5,219.50)">
<rect x="23.75" y="14.25" width="0.70" height="0.91" rx="0.1" fill="#222" stroke="#222" stroke-width="0.6" vector-effect="non-scaling-stroke"/>
</g>
<g transform="matrix(4.2568,1.7297,3.4824,-2.0941,257.5,217.90)">
<rect x="23.75" y="14.10" width="0.70" height="1.30" rx="0.1" fill="#fff" stroke="#1a1a1a" stroke-width="0.9" vector-effect="non-scaling-stroke"/>
</g>
<g transform="matrix(4.2568,1.7297,3.4824,-2.0941,257.5,219.90)">
<rect x="32.85" y="15.95" width="3.20" height="1.30" rx="0.65" fill="#fff" stroke="#333" stroke-width="1.0" vector-effect="non-scaling-stroke"/>
</g>
<g transform="matrix(4.2568,1.7297,3.4824,-2.0941,257.5,218.50)">
<rect x="32.85" y="15.95" width="3.20" height="1.30" rx="0.65" fill="#fff" stroke="#1a1a1a" stroke-width="1.0" vector-effect="non-scaling-stroke"/>
<line x1="35.05" y1="16.60" x2="33.60" y2="16.60" stroke="#777" stroke-width="0.7" vector-effect="non-scaling-stroke"/>
</g>
<g transform="matrix(4.2568,1.7297,3.4824,-2.0941,257.5,219.50)">
<rect x="35.35" y="16.10" width="0.70" height="0.91" rx="0.1" fill="#222" stroke="#222" stroke-width="0.6" vector-effect="non-scaling-stroke"/>
</g>
<g transform="matrix(4.2568,1.7297,3.4824,-2.0941,257.5,217.90)">
<rect x="35.35" y="15.95" width="0.70" height="1.30" rx="0.1" fill="#fff" stroke="#1a1a1a" stroke-width="0.9" vector-effect="non-scaling-stroke"/>
</g>
<g transform="matrix(4.2568,1.7297,3.4824,-2.0941,257.5,219.90)">
<rect x="23.75" y="15.95" width="4.00" height="1.30" rx="0.65" fill="#fff" stroke="#333" stroke-width="1.0" vector-effect="non-scaling-stroke"/>
</g>
<g transform="matrix(4.2568,1.7297,3.4824,-2.0941,257.5,218.50)">
<rect x="23.75" y="15.95" width="4.00" height="1.30" rx="0.65" fill="#fff" stroke="#1a1a1a" stroke-width="1.0" vector-effect="non-scaling-stroke"/>
<line x1="24.75" y1="16.60" x2="27.00" y2="16.60" stroke="#777" stroke-width="0.7" vector-effect="non-scaling-stroke"/>
</g>
<g transform="matrix(4.2568,1.7297,3.4824,-2.0941,257.5,219.50)">
<rect x="23.75" y="16.10" width="0.70" height="0.91" rx="0.1" fill="#222" stroke="#222" stroke-width="0.6" vector-effect="non-scaling-stroke"/>
</g>
<g transform="matrix(4.2568,1.7297,3.4824,-2.0941,257.5,217.90)">
<rect x="23.75" y="15.95" width="0.70" height="1.30" rx="0.1" fill="#fff" stroke="#1a1a1a" stroke-width="0.9" vector-effect="non-scaling-stroke"/>
</g>
<g transform="matrix(4.2568,1.7297,3.4824,-2.0941,257.5,219.90)">
<rect x="32.05" y="17.80" width="4.00" height="1.30" rx="0.65" fill="#fff" stroke="#333" stroke-width="1.0" vector-effect="non-scaling-stroke"/>
</g>
<g transform="matrix(4.2568,1.7297,3.4824,-2.0941,257.5,218.50)">
<rect x="32.05" y="17.80" width="4.00" height="1.30" rx="0.65" fill="#fff" stroke="#1a1a1a" stroke-width="1.0" vector-effect="non-scaling-stroke"/>
<line x1="35.05" y1="18.45" x2="32.80" y2="18.45" stroke="#777" stroke-width="0.7" vector-effect="non-scaling-stroke"/>
</g>
<g transform="matrix(4.2568,1.7297,3.4824,-2.0941,257.5,219.50)">
<rect x="35.35" y="17.95" width="0.70" height="0.91" rx="0.1" fill="#222" stroke="#222" stroke-width="0.6" vector-effect="non-scaling-stroke"/>
</g>
<g transform="matrix(4.2568,1.7297,3.4824,-2.0941,257.5,217.90)">
<rect x="35.35" y="17.80" width="0.70" height="1.30" rx="0.1" fill="#fff" stroke="#1a1a1a" stroke-width="0.9" vector-effect="non-scaling-stroke"/>
</g>
<g transform="matrix(4.2568,1.7297,3.4824,-2.0941,257.5,219.90)">
<rect x="23.75" y="17.80" width="5.00" height="1.30" rx="0.65" fill="#fff" stroke="#333" stroke-width="1.0" vector-effect="non-scaling-stroke"/>
</g>
<g transform="matrix(4.2568,1.7297,3.4824,-2.0941,257.5,218.50)">
<rect x="23.75" y="17.80" width="5.00" height="1.30" rx="0.65" fill="#fff" stroke="#1a1a1a" stroke-width="1.0" vector-effect="non-scaling-stroke"/>
<line x1="24.75" y1="18.45" x2="28.00" y2="18.45" stroke="#777" stroke-width="0.7" vector-effect="non-scaling-stroke"/>
</g>
<g transform="matrix(4.2568,1.7297,3.4824,-2.0941,257.5,219.50)">
<rect x="23.75" y="17.95" width="0.70" height="0.91" rx="0.1" fill="#222" stroke="#222" stroke-width="0.6" vector-effect="non-scaling-stroke"/>
</g>
<g transform="matrix(4.2568,1.7297,3.4824,-2.0941,257.5,217.90)">
<rect x="23.75" y="17.80" width="0.70" height="1.30" rx="0.1" fill="#fff" stroke="#1a1a1a" stroke-width="0.9" vector-effect="non-scaling-stroke"/>
</g>
<g transform="matrix(4.2568,1.7297,3.4824,-2.0941,257.5,219.90)">
<rect x="14.25" y="7.75" width="2.40" height="1.30" rx="0.65" fill="#fff" stroke="#333" stroke-width="1.0" vector-effect="non-scaling-stroke"/>
</g>
<g transform="matrix(4.2568,1.7297,3.4824,-2.0941,257.5,218.50)">
<rect x="14.25" y="7.75" width="2.40" height="1.30" rx="0.65" fill="#fff" stroke="#1a1a1a" stroke-width="1.0" vector-effect="non-scaling-stroke"/>
<line x1="15.25" y1="8.40" x2="15.90" y2="8.40" stroke="#777" stroke-width="0.7" vector-effect="non-scaling-stroke"/>
</g>
<g transform="matrix(4.2568,1.7297,3.4824,-2.0941,257.5,219.50)">
<rect x="14.25" y="7.90" width="0.70" height="0.91" rx="0.1" fill="#222" stroke="#222" stroke-width="0.6" vector-effect="non-scaling-stroke"/>
</g>
<g transform="matrix(4.2568,1.7297,3.4824,-2.0941,257.5,217.90)">
<rect x="14.25" y="7.75" width="0.70" height="1.30" rx="0.1" fill="#fff" stroke="#1a1a1a" stroke-width="0.9" vector-effect="non-scaling-stroke"/>
</g>
<g transform="matrix(4.2568,1.7297,3.4824,-2.0941,257.5,219.90)">
<rect x="14.25" y="9.55" width="2.40" height="1.30" rx="0.65" fill="#fff" stroke="#333" stroke-width="1.0" vector-effect="non-scaling-stroke"/>
</g>
<g transform="matrix(4.2568,1.7297,3.4824,-2.0941,257.5,218.50)">
<rect x="14.25" y="9.55" width="2.40" height="1.30" rx="0.65" fill="#fff" stroke="#1a1a1a" stroke-width="1.0" vector-effect="non-scaling-stroke"/>
<line x1="15.25" y1="10.20" x2="15.90" y2="10.20" stroke="#777" stroke-width="0.7" vector-effect="non-scaling-stroke"/>
</g>
<g transform="matrix(4.2568,1.7297,3.4824,-2.0941,257.5,219.50)">
<rect x="14.25" y="9.70" width="0.70" height="0.91" rx="0.1" fill="#222" stroke="#222" stroke-width="0.6" vector-effect="non-scaling-stroke"/>
</g>
<g transform="matrix(4.2568,1.7297,3.4824,-2.0941,257.5,217.90)">
<rect x="14.25" y="9.55" width="0.70" height="1.30" rx="0.1" fill="#fff" stroke="#1a1a1a" stroke-width="0.9" vector-effect="non-scaling-stroke"/>
</g>
<g transform="matrix(4.2568,1.7297,3.4824,-2.0941,257.5,219.90)">
<rect x="20.95" y="7.75" width="2.40" height="1.30" rx="0.65" fill="#fff" stroke="#333" stroke-width="1.0" vector-effect="non-scaling-stroke"/>
</g>
<g transform="matrix(4.2568,1.7297,3.4824,-2.0941,257.5,218.50)">
<rect x="20.95" y="7.75" width="2.40" height="1.30" rx="0.65" fill="#fff" stroke="#1a1a1a" stroke-width="1.0" vector-effect="non-scaling-stroke"/>
<line x1="22.35" y1="8.40" x2="21.70" y2="8.40" stroke="#777" stroke-width="0.7" vector-effect="non-scaling-stroke"/>
</g>
<g transform="matrix(4.2568,1.7297,3.4824,-2.0941,257.5,219.50)">
<rect x="22.65" y="7.90" width="0.70" height="0.91" rx="0.1" fill="#222" stroke="#222" stroke-width="0.6" vector-effect="non-scaling-stroke"/>
</g>
<g transform="matrix(4.2568,1.7297,3.4824,-2.0941,257.5,217.90)">
<rect x="22.65" y="7.75" width="0.70" height="1.30" rx="0.1" fill="#fff" stroke="#1a1a1a" stroke-width="0.9" vector-effect="non-scaling-stroke"/>
</g>
<g transform="matrix(4.2568,1.7297,3.4824,-2.0941,257.5,219.90)">
<rect x="20.95" y="9.55" width="2.40" height="1.30" rx="0.65" fill="#fff" stroke="#333" stroke-width="1.0" vector-effect="non-scaling-stroke"/>
</g>
<g transform="matrix(4.2568,1.7297,3.4824,-2.0941,257.5,218.50)">
<rect x="20.95" y="9.55" width="2.40" height="1.30" rx="0.65" fill="#fff" stroke="#1a1a1a" stroke-width="1.0" vector-effect="non-scaling-stroke"/>
<line x1="22.35" y1="10.20" x2="21.70" y2="10.20" stroke="#777" stroke-width="0.7" vector-effect="non-scaling-stroke"/>
</g>
<g transform="matrix(4.2568,1.7297,3.4824,-2.0941,257.5,219.50)">
<rect x="22.65" y="9.70" width="0.70" height="0.91" rx="0.1" fill="#222" stroke="#222" stroke-width="0.6" vector-effect="non-scaling-stroke"/>
</g>
<g transform="matrix(4.2568,1.7297,3.4824,-2.0941,257.5,217.90)">
<rect x="22.65" y="9.55" width="0.70" height="1.30" rx="0.1" fill="#fff" stroke="#1a1a1a" stroke-width="0.9" vector-effect="non-scaling-stroke"/>
</g>
<g transform="matrix(4.2568,1.7297,3.4824,-2.0941,257.5,219.90)">
<rect x="21.45" y="11.35" width="1.90" height="1.30" rx="0.65" fill="#fff" stroke="#333" stroke-width="1.0" vector-effect="non-scaling-stroke"/>
</g>
<g transform="matrix(4.2568,1.7297,3.4824,-2.0941,257.5,218.50)">
<rect x="21.45" y="11.35" width="1.90" height="1.30" rx="0.65" fill="#fff" stroke="#1a1a1a" stroke-width="1.0" vector-effect="non-scaling-stroke"/>
<line x1="22.35" y1="12.00" x2="22.20" y2="12.00" stroke="#777" stroke-width="0.7" vector-effect="non-scaling-stroke"/>
</g>
<g transform="matrix(4.2568,1.7297,3.4824,-2.0941,257.5,219.50)">
<rect x="22.65" y="11.50" width="0.70" height="0.91" rx="0.1" fill="#222" stroke="#222" stroke-width="0.6" vector-effect="non-scaling-stroke"/>
</g>
<g transform="matrix(4.2568,1.7297,3.4824,-2.0941,257.5,217.90)">
<rect x="22.65" y="11.35" width="0.70" height="1.30" rx="0.1" fill="#fff" stroke="#1a1a1a" stroke-width="0.9" vector-effect="non-scaling-stroke"/>
</g>
<g transform="matrix(4.2568,1.7297,3.4824,-2.0941,257.5,219.90)">
<rect x="20.95" y="13.15" width="2.40" height="1.30" rx="0.65" fill="#fff" stroke="#333" stroke-width="1.0" vector-effect="non-scaling-stroke"/>
</g>
<g transform="matrix(4.2568,1.7297,3.4824,-2.0941,257.5,218.50)">
<rect x="20.95" y="13.15" width="2.40" height="1.30" rx="0.65" fill="#fff" stroke="#1a1a1a" stroke-width="1.0" vector-effect="non-scaling-stroke"/>
<line x1="22.35" y1="13.80" x2="21.70" y2="13.80" stroke="#777" stroke-width="0.7" vector-effect="non-scaling-stroke"/>
</g>
<g transform="matrix(4.2568,1.7297,3.4824,-2.0941,257.5,219.50)">
<rect x="22.65" y="13.30" width="0.70" height="0.91" rx="0.1" fill="#222" stroke="#222" stroke-width="0.6" vector-effect="non-scaling-stroke"/>
</g>
<g transform="matrix(4.2568,1.7297,3.4824,-2.0941,257.5,217.90)">
<rect x="22.65" y="13.15" width="0.70" height="1.30" rx="0.1" fill="#fff" stroke="#1a1a1a" stroke-width="0.9" vector-effect="non-scaling-stroke"/>
</g>
<g transform="matrix(4.2568,1.7297,3.4824,-2.0941,257.5,220.30)">
<rect x="1.20" y="1.50" width="5.00" height="2.10" rx="1.0" fill="#555" stroke="#333" stroke-width="1.1" vector-effect="non-scaling-stroke"/>
</g>
<g transform="matrix(4.2568,1.7297,3.4824,-2.0941,257.5,218.50)">
<rect x="1.20" y="1.50" width="5.00" height="2.10" rx="1.0" fill="#fff" stroke="#1a1a1a" stroke-width="1.0" vector-effect="non-scaling-stroke"/>
<rect x="1.70" y="2.05" width="4.00" height="1.00" rx="0.5" fill="#fff" stroke="#1a1a1a" stroke-width="0.9" vector-effect="non-scaling-stroke"/>
</g>
<g transform="matrix(4.2568,1.7297,3.4824,-2.0941,257.5,220.30)">
<rect x="6.60" y="1.50" width="5.00" height="2.10" rx="1.0" fill="#555" stroke="#333" stroke-width="1.1" vector-effect="non-scaling-stroke"/>
</g>
<g transform="matrix(4.2568,1.7297,3.4824,-2.0941,257.5,218.50)">
<rect x="6.60" y="1.50" width="5.00" height="2.10" rx="1.0" fill="#fff" stroke="#1a1a1a" stroke-width="1.0" vector-effect="non-scaling-stroke"/>
<rect x="7.10" y="2.05" width="4.00" height="1.00" rx="0.5" fill="#fff" stroke="#1a1a1a" stroke-width="0.9" vector-effect="non-scaling-stroke"/>
</g>
<g transform="matrix(4.2568,1.7297,3.4824,-2.0941,257.5,220.30)">
<rect x="25.00" y="1.50" width="5.00" height="2.10" rx="1.0" fill="#555" stroke="#333" stroke-width="1.1" vector-effect="non-scaling-stroke"/>
</g>
<g transform="matrix(4.2568,1.7297,3.4824,-2.0941,257.5,218.50)">
<rect x="25.00" y="1.50" width="5.00" height="2.10" rx="1.0" fill="#fff" stroke="#1a1a1a" stroke-width="1.0" vector-effect="non-scaling-stroke"/>
<rect x="25.50" y="2.05" width="4.00" height="1.00" rx="0.5" fill="#fff" stroke="#1a1a1a" stroke-width="0.9" vector-effect="non-scaling-stroke"/>
</g>
<g transform="matrix(4.2568,1.7297,3.4824,-2.0941,257.5,220.30)">
<rect x="30.50" y="1.50" width="5.00" height="2.10" rx="1.0" fill="#555" stroke="#333" stroke-width="1.1" vector-effect="non-scaling-stroke"/>
</g>
<g transform="matrix(4.2568,1.7297,3.4824,-2.0941,257.5,218.50)">
<rect x="30.50" y="1.50" width="5.00" height="2.10" rx="1.0" fill="#fff" stroke="#1a1a1a" stroke-width="1.0" vector-effect="non-scaling-stroke"/>
<rect x="31.00" y="2.05" width="4.00" height="1.00" rx="0.5" fill="#fff" stroke="#1a1a1a" stroke-width="0.9" vector-effect="non-scaling-stroke"/>
</g>
<g transform="matrix(4.2568,1.7297,3.4824,-2.0941,257.5,220.10)">
<rect x="14.10" y="5.50" width="9.10" height="2.00" rx="1.0" fill="#fff" stroke="#333" stroke-width="1.0" vector-effect="non-scaling-stroke"/>
</g>
<g transform="matrix(4.2568,1.7297,3.4824,-2.0941,257.5,218.50)">
<rect x="14.10" y="5.50" width="9.10" height="2.00" rx="1.0" fill="#fff" stroke="#1a1a1a" stroke-width="1.1" vector-effect="non-scaling-stroke"/>
</g>
<g transform="matrix(4.2568,1.7297,3.4824,-2.0941,257.5,219.80)">
<rect x="5.50" y="9.20" width="1.00" height="5.80" rx="0.5" fill="#fff" stroke="#444" stroke-width="1.0" vector-effect="non-scaling-stroke"/>
<rect x="5.50" y="18.00" width="1.00" height="2.60" rx="0.5" fill="#fff" stroke="#444" stroke-width="1.0" vector-effect="non-scaling-stroke"/>
<rect x="5.50" y="3.20" width="1.00" height="3.10" rx="0.5" fill="#fff" stroke="#444" stroke-width="1.0" vector-effect="non-scaling-stroke"/>
<rect x="29.80" y="8.40" width="1.00" height="6.10" rx="0.5" fill="#fff" stroke="#444" stroke-width="1.0" vector-effect="non-scaling-stroke"/>
<rect x="29.80" y="18.20" width="1.00" height="2.40" rx="0.5" fill="#fff" stroke="#444" stroke-width="1.0" vector-effect="non-scaling-stroke"/>
<rect x="29.80" y="3.20" width="1.00" height="2.60" rx="0.5" fill="#fff" stroke="#444" stroke-width="1.0" vector-effect="non-scaling-stroke"/>
<rect x="17.80" y="14.60" width="1.00" height="5.90" rx="0.5" fill="#fff" stroke="#444" stroke-width="1.0" vector-effect="non-scaling-stroke"/>
</g>
<g transform="matrix(4.2568,1.7297,3.4824,-2.0941,257.5,218.20)">
<rect x="5.50" y="9.20" width="1.00" height="5.80" rx="0.5" fill="#fff" stroke="#1a1a1a" stroke-width="1.0" vector-effect="non-scaling-stroke"/>
<rect x="5.50" y="18.00" width="1.00" height="2.60" rx="0.5" fill="#fff" stroke="#1a1a1a" stroke-width="1.0" vector-effect="non-scaling-stroke"/>
<rect x="5.50" y="3.20" width="1.00" height="3.10" rx="0.5" fill="#fff" stroke="#1a1a1a" stroke-width="1.0" vector-effect="non-scaling-stroke"/>
<rect x="29.80" y="8.40" width="1.00" height="6.10" rx="0.5" fill="#fff" stroke="#1a1a1a" stroke-width="1.0" vector-effect="non-scaling-stroke"/>
<rect x="29.80" y="18.20" width="1.00" height="2.40" rx="0.5" fill="#fff" stroke="#1a1a1a" stroke-width="1.0" vector-effect="non-scaling-stroke"/>
<rect x="29.80" y="3.20" width="1.00" height="2.60" rx="0.5" fill="#fff" stroke="#1a1a1a" stroke-width="1.0" vector-effect="non-scaling-stroke"/>
<rect x="17.80" y="14.60" width="1.00" height="5.90" rx="0.5" fill="#fff" stroke="#1a1a1a" stroke-width="1.0" vector-effect="non-scaling-stroke"/>
</g>
<g transform="matrix(4.2568,1.7297,3.4824,-2.0941,257.5,222.70)">
<rect x="4.28" y="6.08" width="3.24" height="3.24" rx="1.62" fill="#fff" stroke="#1a1a1a" stroke-width="1.0" vector-effect="non-scaling-stroke"/>
<rect x="4.52" y="6.22" width="2.76" height="2.76" rx="1.38" fill="#333" stroke="#222" stroke-width="1.0" vector-effect="non-scaling-stroke"/>
<rect x="4.41" y="14.81" width="3.38" height="3.38" rx="1.6875" fill="#fff" stroke="#1a1a1a" stroke-width="1.0" vector-effect="non-scaling-stroke"/>
<rect x="4.66" y="14.96" width="2.88" height="2.88" rx="1.4375" fill="#333" stroke="#222" stroke-width="1.0" vector-effect="non-scaling-stroke"/>
<rect x="28.21" y="14.21" width="4.19" height="4.19" rx="2.0925000000000002" fill="#fff" stroke="#1a1a1a" stroke-width="1.0" vector-effect="non-scaling-stroke"/>
<rect x="28.52" y="14.42" width="3.56" height="3.56" rx="1.7825" fill="#333" stroke="#222" stroke-width="1.0" vector-effect="non-scaling-stroke"/>
<rect x="28.91" y="5.51" width="2.97" height="2.97" rx="1.4850000000000003" fill="#fff" stroke="#1a1a1a" stroke-width="1.0" vector-effect="non-scaling-stroke"/>
<rect x="29.13" y="5.64" width="2.53" height="2.53" rx="1.265" fill="#333" stroke="#222" stroke-width="1.0" vector-effect="non-scaling-stroke"/>
<rect x="16.30" y="9.90" width="4.59" height="4.59" rx="2.295" fill="#fff" stroke="#1a1a1a" stroke-width="1.0" vector-effect="non-scaling-stroke"/>
<rect x="16.65" y="10.24" width="3.91" height="3.91" rx="1.9549999999999998" fill="#fff" stroke="#222" stroke-width="1.1" vector-effect="non-scaling-stroke"/>
</g>
<g transform="matrix(4.2568,1.7297,3.4824,-2.0941,257.5,220.90)">
<rect x="4.70" y="6.50" width="2.40" height="2.40" rx="1.2" fill="#fff" stroke="#1a1a1a" stroke-width="1.1" vector-effect="non-scaling-stroke"/>
<rect x="4.85" y="15.25" width="2.50" height="2.50" rx="1.25" fill="#fff" stroke="#1a1a1a" stroke-width="1.1" vector-effect="non-scaling-stroke"/>
<rect x="28.75" y="14.75" width="3.10" height="3.10" rx="1.55" fill="#fff" stroke="#1a1a1a" stroke-width="1.1" vector-effect="non-scaling-stroke"/>
<rect x="29.30" y="5.90" width="2.20" height="2.20" rx="1.1" fill="#fff" stroke="#1a1a1a" stroke-width="1.1" vector-effect="non-scaling-stroke"/>
<rect x="16.90" y="10.50" width="3.40" height="3.40" rx="1.7" fill="#fff" stroke="#1a1a1a" stroke-width="1.1" vector-effect="non-scaling-stroke"/>
<rect x="17.58" y="11.48" width="2.04" height="2.04" rx="1.02" fill="#fff" stroke="#1a1a1a" stroke-width="1.0" vector-effect="non-scaling-stroke"/>
</g>
<circle cx="326.8" cy="236.7" r="4.3" fill="#262626" stroke="#1a1a1a" stroke-width="1"/>
<path d="M323.4,237.3 L329.4,233.9 M324.2,239.5 L330.2,236.1" stroke="#e8e8e8" stroke-width="1.1"/>
<circle cx="336.8" cy="240.7" r="4.3" fill="#262626" stroke="#1a1a1a" stroke-width="1"/>
<path d="M333.4,241.3 L339.4,237.9 M334.2,243.5 L340.2,240.1" stroke="#e8e8e8" stroke-width="1.1"/>
<circle cx="346.8" cy="244.8" r="4.3" fill="#262626" stroke="#1a1a1a" stroke-width="1"/>
<path d="M343.4,245.4 L349.4,242.0 M344.2,247.6 L350.2,244.2" stroke="#e8e8e8" stroke-width="1.1"/>
<circle cx="356.8" cy="248.9" r="4.3" fill="#262626" stroke="#1a1a1a" stroke-width="1"/>
<path d="M353.4,249.5 L359.4,246.1 M354.2,251.7 L360.2,248.3" stroke="#e8e8e8" stroke-width="1.1"/>
<circle cx="366.8" cy="252.9" r="4.3" fill="#262626" stroke="#1a1a1a" stroke-width="1"/>
<path d="M363.4,253.5 L369.4,250.1 M364.2,255.7 L370.2,252.3" stroke="#e8e8e8" stroke-width="1.1"/>
</svg></body></html>
